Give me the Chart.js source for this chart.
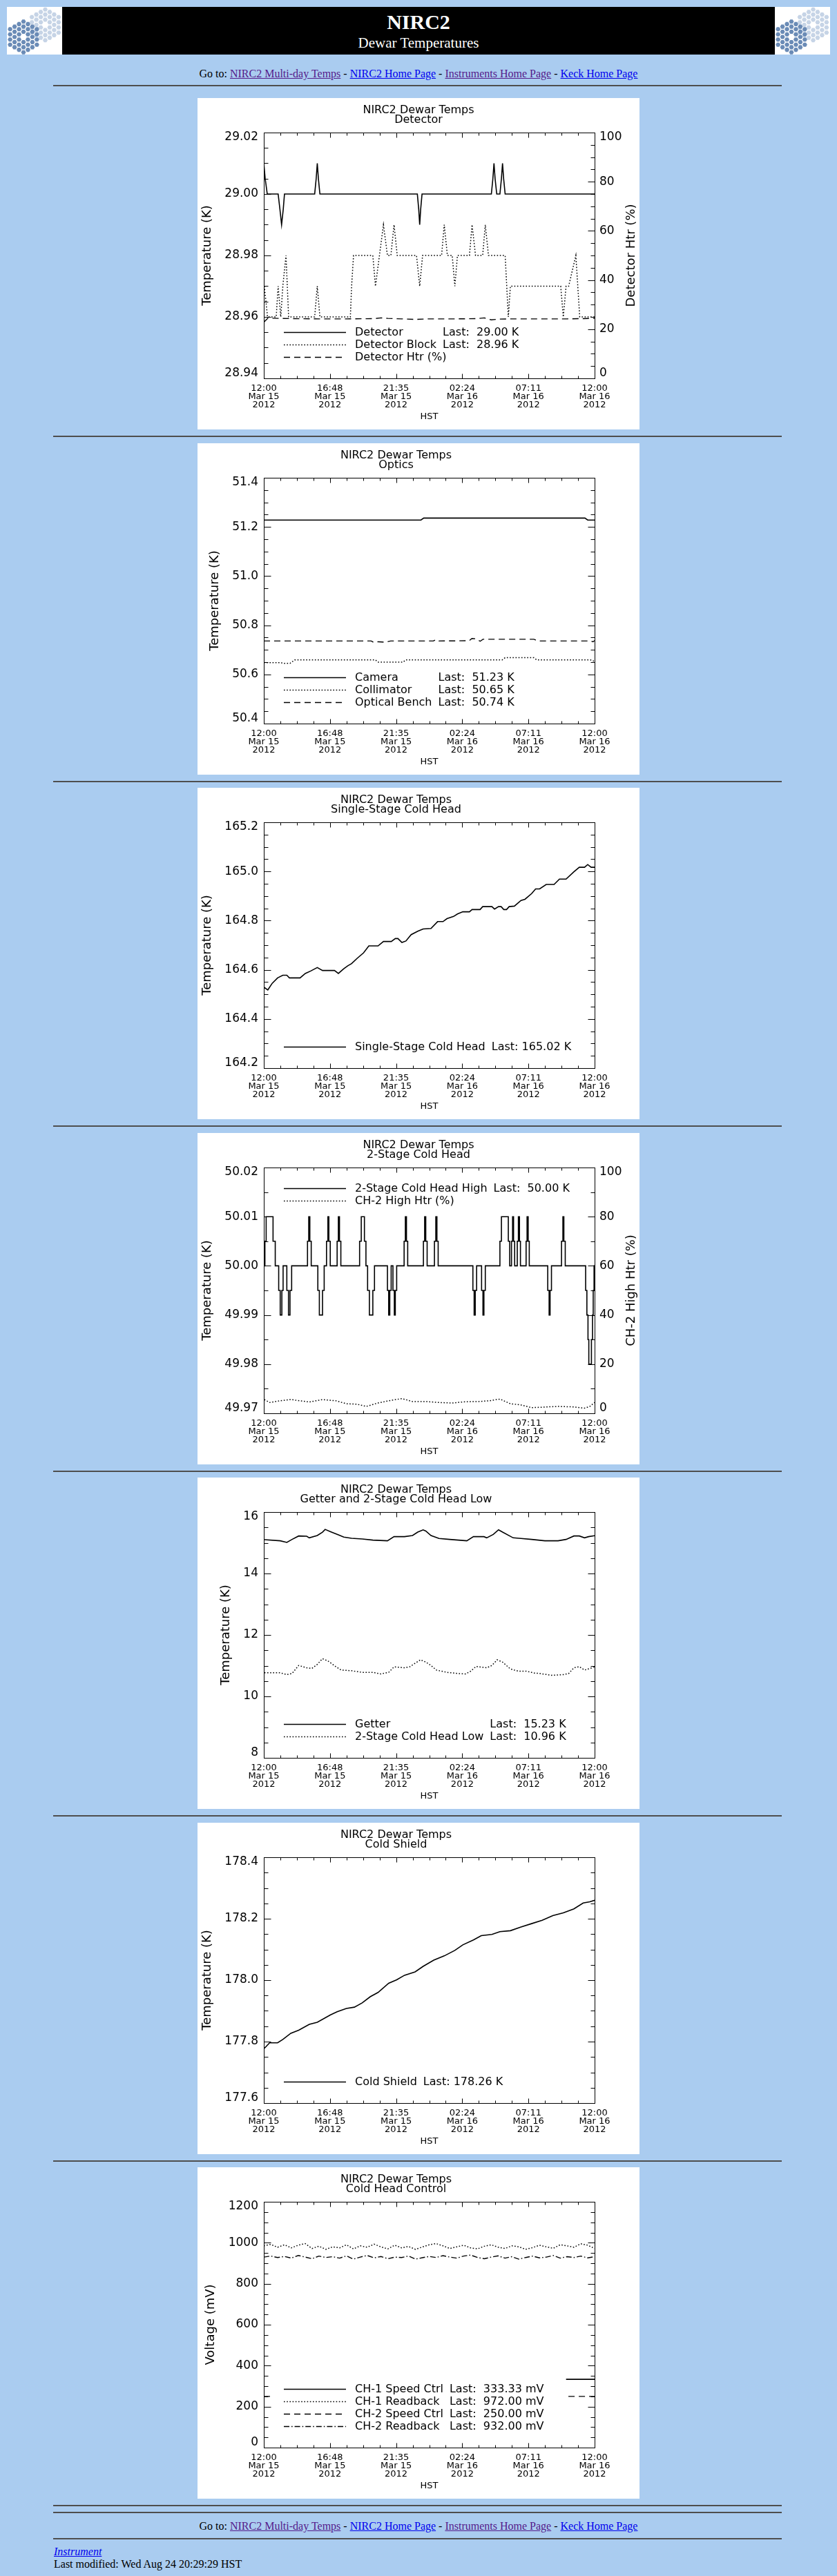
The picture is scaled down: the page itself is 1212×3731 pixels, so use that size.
<!DOCTYPE html>
<html><head><meta charset="utf-8">
<title>NIRC2 Dewar Temperatures</title>
<script src="https://cdn.jsdelivr.net/npm/chart.js@4.4.1/dist/chart.umd.min.js"></script>
<style>
html,body{margin:0;padding:0;}
body{background:#AACCF0;width:1212px;height:3731px;position:relative;overflow:hidden;font-family:"Liberation Serif","Times New Roman",serif;color:#000;}
.abs{position:absolute;}
.hr{position:absolute;left:77px;width:1055px;height:2px;background:#4e4e4e;}
.goto{position:absolute;left:0;width:1212px;text-align:center;font-size:16px;line-height:16px;white-space:pre;}
.v{color:#551A8B;text-decoration:underline;}
.b{color:#0000EE;text-decoration:underline;}
.panel{position:absolute;left:286px;width:640px;height:480px;background:#fff;}
.panel canvas{display:block;}
</style>
</head><body>
<script>
// ---------------- DATA ----------------
const xTickHours = [0, 4.8, 9.6, 14.4, 19.2, 24];
const xTickLabels = [["12:00","Mar 15","2012"],["16:48","Mar 15","2012"],["21:35","Mar 15","2012"],["02:24","Mar 16","2012"],["07:11","Mar 16","2012"],["12:00","Mar 16","2012"]];
const pctTicks = [0, 20, 40, 60, 80, 100];
const pctTickLabels = ["0","20","40","60","80","100"];

// Chart 1: Detector
const detTicks = [28.94, 28.96, 28.98, 29.00, 29.02];
const detTickLabels = ["28.94","28.96","28.98","29.00","29.02"];
const detectorHours = [0, 0.1, 0.25, 1.04, 1.17, 1.29, 1.41, 1.5, 3.69, 3.8, 3.88, 3.96, 4.07, 11.14, 11.24, 11.31, 11.38, 11.48, 16.51, 16.62, 16.70, 16.78, 16.90, 17.13, 17.24, 17.32, 17.40, 17.51, 24];
const detectorTemps = [29.01, 29.005, 29.00, 29.00, 28.995, 28.99, 28.995, 29.00, 29.00, 29.005, 29.01, 29.005, 29.00, 29.00, 28.995, 28.99, 28.995, 29.00, 29.00, 29.005, 29.01, 29.005, 29.00, 29.00, 29.005, 29.01, 29.005, 29.00, 29.00];
const blockHours = [0.04, 0.27, 0.90, 1.04, 1.23, 1.38, 1.61, 1.80, 3.69, 3.88, 4.07, 6.28, 6.37, 6.51, 7.91, 8.10, 8.39, 8.68, 8.97, 9.22, 9.45, 9.68, 11.08, 11.31, 11.52, 12.90, 13.09, 13.32, 13.67, 13.86, 14.05, 14.92, 15.11, 15.36, 15.88, 16.07, 16.30, 17.51, 17.74, 17.89, 21.54, 21.73, 21.93, 22.12, 22.64, 22.92, 24];
const blockTemps = [28.97, 28.96, 28.96, 28.97, 28.96, 28.97, 28.98, 28.96, 28.96, 28.97, 28.96, 28.96, 28.97, 28.98, 28.98, 28.97, 28.98, 28.99, 28.98, 28.98, 28.99, 28.98, 28.98, 28.97, 28.98, 28.98, 28.99, 28.98, 28.98, 28.97, 28.98, 28.98, 28.99, 28.98, 28.98, 28.99, 28.98, 28.98, 28.96, 28.97, 28.97, 28.96, 28.97, 28.97, 28.98, 28.96, 28.96];
const detHtrHours = [0, 0.3, 2, 4, 6, 8, 8.5, 9, 10, 11, 12, 14, 15.5, 16, 16.5, 17, 17.8, 20, 22, 24];
const detHtrPct = [22.8, 24.5, 24.3, 24.2, 24.2, 24.3, 24.6, 24.4, 24.2, 24.0, 24.2, 24.2, 24.3, 24.6, 23.8, 24.1, 24.2, 24.2, 24.2, 24.4];

// Chart 2: Optics
const opticsTicks = [50.4, 50.6, 50.8, 51.0, 51.2, 51.4];
const opticsTickLabels = ["50.4","50.6","50.8","51.0","51.2","51.4"];
const cameraHours = [0, 11.4, 11.6, 23.3, 23.5, 24];
const cameraTemps = [51.228, 51.228, 51.236, 51.236, 51.228, 51.228];
const collimHours = [0, 1.2, 1.5, 1.9, 2.25, 8.1, 8.3, 10.1, 10.3, 17.3, 17.5, 19.6, 19.8, 23.7, 24];
const collimTemps = [50.648, 50.648, 50.645, 50.645, 50.659, 50.659, 50.650, 50.650, 50.659, 50.659, 50.668, 50.668, 50.659, 50.659, 50.653];
const benchHours = [0, 7.8, 7.95, 8.3, 8.8, 9.2, 12.3, 12.5, 12.7, 14.9, 15.1, 15.4, 15.7, 15.9, 19.6, 19.9, 23.6, 23.9, 24];
const benchTemps = [50.736, 50.736, 50.731, 50.733, 50.731, 50.736, 50.736, 50.742, 50.736, 50.737, 50.746, 50.745, 50.735, 50.743, 50.743, 50.736, 50.736, 50.733, 50.738];

// Chart 3: Single-Stage Cold Head
const sscTicks = [164.2, 164.4, 164.6, 164.8, 165.0, 165.2];
const sscTickLabels = ["164.2","164.4","164.6","164.8","165.0","165.2"];
const sscHours = [0.04, 0.29, 0.61, 1.00, 1.38, 1.67, 1.86, 2.63, 3.01, 3.40, 3.88, 4.26, 5.13, 5.41, 5.80, 6.09, 6.37, 6.76, 7.24, 7.62, 8.29, 8.68, 9.25, 9.54, 9.73, 10.02, 10.31, 10.69, 11.17, 11.56, 12.13, 12.61, 13.00, 13.29, 13.77, 14.05, 14.44, 14.92, 15.11, 15.69, 15.88, 16.55, 16.74, 17.03, 17.22, 17.41, 17.61, 17.80, 18.18, 18.66, 18.95, 19.43, 19.72, 20.01, 20.49, 21.06, 21.45, 21.93, 22.50, 22.89, 23.27, 23.50, 23.75, 24.00];
const sscTemps = [164.528, 164.518, 164.545, 164.567, 164.578, 164.578, 164.567, 164.567, 164.585, 164.595, 164.609, 164.597, 164.597, 164.585, 164.604, 164.616, 164.625, 164.646, 164.669, 164.697, 164.697, 164.715, 164.715, 164.727, 164.727, 164.711, 164.717, 164.743, 164.757, 164.766, 164.768, 164.796, 164.796, 164.808, 164.817, 164.827, 164.836, 164.836, 164.845, 164.845, 164.857, 164.857, 164.847, 164.857, 164.857, 164.845, 164.845, 164.857, 164.859, 164.882, 164.887, 164.910, 164.929, 164.929, 164.947, 164.947, 164.969, 164.969, 164.999, 165.017, 165.017, 165.028, 165.017, 165.017];

// Chart 4: 2-Stage Cold Head
const tscTicks = [49.97, 49.98, 49.99, 50.00, 50.01, 50.02];
const tscTickLabels = ["49.97","49.98","49.99","50.00","50.01","50.02"];
const tscHours = [0.00, 0.08, 0.17, 0.67, 0.83, 1.08, 1.19, 1.31, 1.40, 1.67, 1.79, 1.90, 2.02, 3.17, 3.26, 3.34, 3.44, 3.92, 4.03, 4.26, 4.38, 4.55, 4.65, 4.72, 4.82, 5.32, 5.41, 5.49, 5.59, 6.95, 7.07, 7.30, 7.41, 7.53, 7.66, 7.91, 8.03, 8.97, 9.06, 9.14, 9.24, 9.37, 9.47, 9.54, 9.64, 10.18, 10.27, 10.35, 10.44, 11.58, 11.67, 11.75, 11.85, 12.38, 12.48, 12.56, 12.65, 15.17, 15.26, 15.34, 15.44, 15.80, 15.90, 15.97, 16.07, 17.13, 17.24, 17.74, 17.84, 17.97, 18.05, 18.12, 18.20, 18.39, 18.47, 18.55, 18.62, 19.03, 19.10, 19.18, 19.26, 20.60, 20.70, 20.77, 20.87, 21.60, 21.70, 21.77, 21.87, 23.35, 23.44, 23.52, 23.58, 23.77, 23.85, 23.90, 23.96, 24.00];
const tscTemps = [50.000, 50.005, 50.010, 50.005, 50.000, 49.995, 49.990, 49.995, 50.000, 49.995, 49.990, 49.995, 50.000, 50.005, 50.010, 50.005, 50.000, 49.995, 49.990, 49.995, 50.000, 50.005, 50.010, 50.005, 50.000, 50.005, 50.010, 50.005, 50.000, 50.005, 50.010, 50.005, 50.000, 49.995, 49.990, 49.995, 50.000, 49.995, 49.990, 49.995, 50.000, 49.995, 49.990, 49.995, 50.000, 50.005, 50.010, 50.005, 50.000, 50.005, 50.010, 50.005, 50.000, 50.005, 50.010, 50.005, 50.000, 49.995, 49.990, 49.995, 50.000, 49.995, 49.990, 49.995, 50.000, 50.005, 50.010, 50.005, 50.000, 50.005, 50.010, 50.005, 50.000, 50.005, 50.010, 50.005, 50.000, 50.005, 50.010, 50.005, 50.000, 49.995, 49.990, 49.995, 50.000, 50.005, 50.010, 50.005, 50.000, 49.995, 49.990, 49.985, 49.980, 49.985, 49.990, 49.995, 50.000, 50.000];
const ch2HtrHours = [0.04, 0.42, 1.19, 1.96, 3.30, 4.26, 5.22, 5.99, 6.76, 7.43, 8.29, 9.25, 10.02, 10.79, 11.75, 12.71, 13.67, 14.63, 15.59, 16.36, 17.13, 17.89, 18.66, 19.43, 20.20, 21.35, 22.50, 23.27, 23.65, 24.00];
const ch2HtrPct = [5.6, 4.4, 5.1, 5.6, 4.6, 5.6, 5.1, 3.9, 3.7, 2.8, 4.2, 5.3, 6.0, 4.8, 4.8, 4.4, 4.2, 4.7, 4.8, 5.1, 5.8, 3.9, 3.4, 2.3, 2.5, 2.8, 2.6, 2.1, 2.8, 4.4];

// Chart 5: Getter and 2-Stage Cold Head Low
const getTicks = [8, 10, 12, 14, 16];
const getTickLabels = ["8","10","12","14","16"];
const getterHours = [0.04, 1.19, 1.67, 2.05, 2.53, 3.11, 3.30, 3.88, 4.26, 4.45, 4.84, 5.41, 5.80, 6.37, 7.14, 7.91, 8.97, 9.45, 10.21, 10.79, 11.17, 11.56, 11.75, 12.13, 12.71, 13.48, 14.73, 15.21, 15.97, 16.17, 16.65, 17.03, 17.32, 18.09, 18.66, 19.43, 20.39, 21.35, 21.93, 22.50, 22.89, 23.27, 23.56, 24.00];
const getterTemps = [15.102, 15.065, 15.013, 15.109, 15.221, 15.213, 15.161, 15.236, 15.347, 15.436, 15.362, 15.258, 15.184, 15.147, 15.124, 15.087, 15.065, 15.199, 15.199, 15.236, 15.347, 15.421, 15.384, 15.236, 15.139, 15.109, 15.065, 15.199, 15.199, 15.161, 15.273, 15.421, 15.347, 15.161, 15.139, 15.109, 15.065, 15.065, 15.109, 15.221, 15.221, 15.161, 15.199, 15.23];
const lowHours = [0.04, 1.19, 1.67, 2.05, 2.53, 3.11, 3.49, 3.88, 4.26, 4.65, 5.22, 5.61, 6.37, 7.14, 7.91, 8.49, 9.06, 9.45, 10.21, 10.60, 10.98, 11.37, 11.75, 12.13, 12.52, 13.29, 14.05, 14.63, 15.01, 15.40, 16.17, 16.55, 16.93, 17.32, 17.89, 18.47, 19.05, 19.62, 20.01, 20.87, 21.73, 22.12, 22.50, 22.89, 23.27, 23.65, 24.00];
const lowTemps = [10.768, 10.768, 10.709, 10.746, 11.006, 10.931, 10.909, 11.043, 11.228, 11.154, 10.968, 10.857, 10.835, 10.783, 10.783, 10.731, 10.783, 10.962, 10.931, 10.968, 11.080, 11.191, 11.117, 11.006, 10.857, 10.783, 10.746, 10.731, 10.820, 10.976, 10.931, 11.006, 11.191, 11.117, 10.894, 10.820, 10.820, 10.761, 10.746, 10.687, 10.709, 10.746, 10.931, 10.968, 10.857, 10.909, 10.96];

// Chart 6: Cold Shield
const csTicks = [177.6, 177.8, 178.0, 178.2, 178.4];
const csTickLabels = ["177.6","177.8","178.0","178.2","178.4"];
const shieldHours = [0.04, 0.42, 1.00, 1.38, 1.96, 2.53, 3.30, 3.88, 4.84, 5.32, 5.99, 6.57, 7.14, 7.72, 8.29, 9.06, 9.64, 10.21, 10.98, 11.56, 12.33, 13.09, 13.86, 14.44, 15.21, 15.78, 16.55, 17.13, 17.89, 18.66, 19.43, 20.20, 20.97, 21.73, 22.50, 23.17, 23.65, 24.00];
const shieldTemps = [177.778, 177.796, 177.796, 177.807, 177.827, 177.837, 177.856, 177.863, 177.887, 177.897, 177.908, 177.912, 177.926, 177.946, 177.960, 177.990, 178.001, 178.016, 178.027, 178.045, 178.065, 178.079, 178.097, 178.115, 178.131, 178.145, 178.149, 178.158, 178.161, 178.173, 178.184, 178.195, 178.210, 178.219, 178.232, 178.251, 178.255, 178.26];

// Chart 7: Cold Head Control
const mvTicks = [0, 200, 400, 600, 800, 1000, 1200];
const mvTickLabels = ["0","200","400","600","800","1000","1200"];
const ch1SpeedHours = [21.93, 24];
const ch1SpeedMv = [333.33, 333.33];
const ch2SpeedHours = [0, 0.6, 0.61, 22.1, 24];
const ch2SpeedMv = [250, 250, null, 250, 250];
const readbackHours = [0,0.5,1,1.5,2,2.5,3,3.5,4,4.5,5,5.5,6,6.5,7,7.5,8,8.5,9,9.5,10,10.5,11,11.5,12,12.5,13,13.5,14,14.5,15,15.5,16,16.5,17,17.5,18,18.5,19,19.5,20,20.5,21,21.5,22,22.5,23,23.5,24];
const ch1ReadbackMv = [985, 992, 978, 990, 975, 988, 996, 972, 983, 968, 980, 975, 990, 970, 985, 978, 993, 980, 970, 988, 975, 982, 968, 979, 990, 996, 985, 972, 980, 988, 975, 970, 983, 990, 978, 972, 985, 980, 968, 976, 988, 980, 973, 990, 985, 978, 995, 988, 972];
const ch2ReadbackMv = [930, 935, 928, 933, 925, 938, 930, 922, 935, 928, 932, 925, 936, 920, 930, 938, 926, 933, 922, 930, 928, 935, 920, 927, 933, 928, 937, 930, 925, 935, 940, 928, 922, 930, 936, 925, 932, 920, 928, 935, 926, 930, 938, 925, 932, 928, 935, 926, 932];

// ---------------- STYLE ----------------
const FAM = '"DejaVu Sans", Verdana, sans-serif';
const FW = 'normal';
const LINESTYLE = {
  solid:   {borderDash: [],             borderWidth: 1.6},
  dotted:  {borderDash: [1.6, 2.6],     borderWidth: 1.5},
  dashed:  {borderDash: [9, 6],         borderWidth: 1.4},
  dashdot: {borderDash: [8, 3, 1.6, 3], borderWidth: 1.4}
};

const idlPlugin = {
  id: 'idl',
  beforeDraw(chart) {
    const c = chart.ctx; c.save(); c.fillStyle = '#fff'; c.fillRect(0, 0, chart.width, chart.height); c.restore();
  },
  afterDraw(chart, args, o) {
    const ctx = chart.ctx, a = chart.chartArea;
    const L = Math.round(a.left) + 0.5, R = Math.round(a.right) + 0.5, T = Math.round(a.top) + 0.5, B = Math.round(a.bottom) + 0.5;
    ctx.save();
    ctx.strokeStyle = '#000'; ctx.lineWidth = 1; ctx.setLineDash([]);
    ctx.strokeRect(L, T, R - L, B - T);
    ctx.beginPath();
    const ticksOf = (scale, majors, minor) => {
      const n = Math.round((scale.max - scale.min) / minor);
      const out = [];
      for (let i = 0; i <= n; i++) {
        const v = scale.min + i * minor;
        const major = majors.some(m => Math.abs(m - v) < minor * 1e-3);
        out.push({p: Math.round(scale.getPixelForValue(v)) + 0.5, major});
      }
      return out;
    };
    ticksOf(chart.scales.x, o.xMajors, o.xMinor).forEach(t => {
      const len = t.major ? 7 : 4;
      ctx.moveTo(t.p, B); ctx.lineTo(t.p, B - len);
      ctx.moveTo(t.p, T); ctx.lineTo(t.p, T + len);
    });
    const yt = ticksOf(chart.scales.y, o.yMajors, o.yMinor);
    yt.forEach(t => { const len = t.major ? 10 : 6; ctx.moveTo(L, t.p); ctx.lineTo(L + len, t.p); });
    const rt = chart.scales.y2 ? ticksOf(chart.scales.y2, o.y2Majors, o.y2Minor) : yt;
    rt.forEach(t => { const len = t.major ? 10 : 6; ctx.moveTo(R, t.p); ctx.lineTo(R - len, t.p); });
    ctx.stroke();

    // axis titles
    ctx.fillStyle = '#000';
    ctx.font = FW + ' 17px ' + FAM;
    const widest = labs => Math.max(...labs.map(s => ctx.measureText(s).width));
    const wl = widest(o.yLabels);
    ctx.font = FW + ' 18px ' + FAM;
    ctx.textAlign = 'center'; ctx.textBaseline = 'middle';
    ctx.save(); ctx.translate(a.left - 8 - wl - 25, (a.top + a.bottom) / 2); ctx.rotate(-Math.PI / 2);
    ctx.fillText(o.yTitle, 0, 0); ctx.restore();
    if (o.y2Title) {
      ctx.font = FW + ' 17px ' + FAM;
      const wr = widest(o.y2Labels);
      ctx.font = FW + ' 18px ' + FAM;
      ctx.save(); ctx.translate(a.right + 7 + wr + 14, (a.top + a.bottom) / 2); ctx.rotate(-Math.PI / 2);
      ctx.fillText(o.y2Title, 0, 0); ctx.restore();
    }

    // legend
    const rows = chart.data.datasets.filter(d => d.label);
    ctx.font = FW + ' 16px ' + FAM;
    ctx.textAlign = 'left';
    const named = rows.filter(d => d.lastText);
    const nameW = named.length ? Math.max(...named.map(d => ctx.measureText(d.label).width)) : 0;
    const y0 = o.legendAt === 'top' ? a.top + 30 : a.bottom - 31 - (rows.length - 1) * 18;
    rows.forEach((d, k) => {
      const y = Math.round(y0 + k * 18) + 0.5;
      ctx.strokeStyle = '#000'; ctx.lineWidth = d.borderWidth; ctx.setLineDash(d.borderDash || []);
      ctx.beginPath(); ctx.moveTo(a.left + 29, y); ctx.lineTo(a.left + 119, y); ctx.stroke();
      ctx.setLineDash([]);
      ctx.fillText(d.label, a.left + 132, y);
      if (d.lastText) ctx.fillText(d.lastText, a.left + 132 + nameW + 9, y);
    });
    ctx.restore();
  }
};

function series(hours, values, label, lastText, style, axis, stepped) {
  return Object.assign({
    label, lastText,
    data: hours.map((h, i) => ({x: h, y: values[i]})),
    yAxisID: axis || 'y', borderColor: '#000', backgroundColor: '#000',
    pointRadius: 0, tension: 0, fill: false, spanGaps: false, stepped: stepped || false
  }, LINESTYLE[style]);
}

function yScale(pos, min, max, ticks, labels, width) {
  return {
    type: 'linear', position: pos, min, max,
    afterBuildTicks: s => { s.ticks = ticks.map(v => ({value: v})); },
    afterFit: s => { s.width = width; },
    grid: {display: false, drawTicks: false}, border: {display: false},
    ticks: {
      padding: pos === 'left' ? 8 : 7, color: '#000', autoSkip: false,
      font: {family: FAM, size: 17, weight: FW, lineHeight: '14px'},
      callback: (v, i, t) => i === 0 ? [labels[i], ''] : (i === t.length - 1 ? ['', labels[i]] : labels[i])
    }
  };
}

function makeChart(canvas, spec) {
  const scales = {
    x: {
      type: 'linear', position: 'bottom', min: 0, max: 24,
      afterBuildTicks: s => { s.ticks = xTickHours.map(v => ({value: v})); },
      afterFit: s => { s.height = 74; },
      grid: {display: false, drawTicks: false}, border: {display: false},
      ticks: {autoSkip: false, maxRotation: 0, minRotation: 0, padding: 9, color: '#000',
        font: {family: FAM, size: 13, weight: FW, lineHeight: '12px'},
        callback: (v, i) => xTickLabels[i]},
      title: {display: true, text: 'HST', color: '#000', font: {family: FAM, size: 13, weight: FW, lineHeight: '15px'}, padding: {top: 0, bottom: 11}}
    },
    y: yScale('left', spec.y.min, spec.y.max, spec.y.ticks, spec.y.labels, 96)
  };
  if (spec.y2) scales.y2 = yScale('right', spec.y2.min, spec.y2.max, spec.y2.ticks, spec.y2.labels, 65);
  return new Chart(canvas, {
    type: 'line',
    data: {datasets: spec.datasets},
    options: {
      responsive: false, animation: false, devicePixelRatio: 1, events: [],
      layout: {padding: {left: 0, top: 0, bottom: 0, right: spec.y2 ? 0 : 65}},
      plugins: {
        legend: {display: false}, tooltip: {enabled: false},
        title: {display: true, text: spec.title, color: '#000', align: 'center',
          font: {family: FAM, size: 16, weight: FW, lineHeight: '14px'}, padding: {top: 11, bottom: 11}},
        idl: {
          xMajors: xTickHours, xMinor: 1.2,
          yMajors: spec.y.ticks, yMinor: spec.y.minor, yLabels: spec.y.labels, yTitle: spec.y.title,
          y2Majors: spec.y2 ? spec.y2.ticks : null, y2Minor: spec.y2 ? spec.y2.minor : null,
          y2Labels: spec.y2 ? spec.y2.labels : null, y2Title: spec.y2 ? spec.y2.title : null,
          legendAt: spec.legendAt || 'bottom'
        }
      },
      scales
    },
    plugins: [idlPlugin]
  });
}

const specs = [
  {title: ['NIRC2 Dewar Temps', 'Detector'],
   y: {min: 28.94, max: 29.02, ticks: detTicks, labels: detTickLabels, minor: 0.005, title: 'Temperature (K)'},
   y2: {min: 0, max: 100, ticks: pctTicks, labels: pctTickLabels, minor: 5, title: 'Detector Htr (%)'},
   datasets: [
     series(detectorHours, detectorTemps, 'Detector', 'Last:  29.00 K', 'solid'),
     series(blockHours, blockTemps, 'Detector Block', 'Last:  28.96 K', 'dotted'),
     series(detHtrHours, detHtrPct, 'Detector Htr (%)', null, 'dashed', 'y2')]},
  {title: ['NIRC2 Dewar Temps', 'Optics'],
   y: {min: 50.4, max: 51.4, ticks: opticsTicks, labels: opticsTickLabels, minor: 0.05, title: 'Temperature (K)'},
   datasets: [
     series(cameraHours, cameraTemps, 'Camera', 'Last:  51.23 K', 'solid'),
     series(collimHours, collimTemps, 'Collimator', 'Last:  50.65 K', 'dotted'),
     series(benchHours, benchTemps, 'Optical Bench', 'Last:  50.74 K', 'dashed')]},
  {title: ['NIRC2 Dewar Temps', 'Single-Stage Cold Head'],
   y: {min: 164.2, max: 165.2, ticks: sscTicks, labels: sscTickLabels, minor: 0.05, title: 'Temperature (K)'},
   datasets: [series(sscHours, sscTemps, 'Single-Stage Cold Head', 'Last: 165.02 K', 'solid')]},
  {title: ['NIRC2 Dewar Temps', '2-Stage Cold Head'],
   y: {min: 49.97, max: 50.02, ticks: tscTicks, labels: tscTickLabels, minor: 0.005, title: 'Temperature (K)'},
   y2: {min: 0, max: 100, ticks: pctTicks, labels: pctTickLabels, minor: 10, title: 'CH-2 High Htr (%)'},
   legendAt: 'top',
   datasets: [
     series(tscHours, tscTemps, '2-Stage Cold Head High', 'Last:  50.00 K', 'solid', 'y', 'before'),
     series(ch2HtrHours, ch2HtrPct, 'CH-2 High Htr (%)', null, 'dotted', 'y2')]},
  {title: ['NIRC2 Dewar Temps', 'Getter and 2-Stage Cold Head Low'],
   y: {min: 8, max: 16, ticks: getTicks, labels: getTickLabels, minor: 0.5, title: 'Temperature (K)'},
   datasets: [
     series(getterHours, getterTemps, 'Getter', 'Last:  15.23 K', 'solid'),
     series(lowHours, lowTemps, '2-Stage Cold Head Low', 'Last:  10.96 K', 'dotted')]},
  {title: ['NIRC2 Dewar Temps', 'Cold Shield'],
   y: {min: 177.6, max: 178.4, ticks: csTicks, labels: csTickLabels, minor: 0.05, title: 'Temperature (K)'},
   datasets: [series(shieldHours, shieldTemps, 'Cold Shield', 'Last: 178.26 K', 'solid')]},
  {title: ['NIRC2 Dewar Temps', 'Cold Head Control'],
   y: {min: 0, max: 1200, ticks: mvTicks, labels: mvTickLabels, minor: 50, title: 'Voltage (mV)'},
   datasets: [
     series(ch1SpeedHours, ch1SpeedMv, 'CH-1 Speed Ctrl', 'Last:  333.33 mV', 'solid'),
     series(readbackHours, ch1ReadbackMv, 'CH-1 Readback', 'Last:  972.00 mV', 'dotted'),
     series(ch2SpeedHours, ch2SpeedMv, 'CH-2 Speed Ctrl', 'Last:  250.00 mV', 'dashed'),
     series(readbackHours, ch2ReadbackMv, 'CH-2 Readback', 'Last:  932.00 mV', 'dashdot')]}
];

// ---------------- PAGE ----------------
function el(tag, cls, style, html) {
  const e = document.createElement(tag);
  if (cls) e.className = cls;
  if (style) e.style.cssText = style;
  if (html != null) e.innerHTML = html;
  document.body.appendChild(e);
  return e;
}
function drawLogo(cv) {
  const c = cv.getContext('2d');
  c.fillStyle = '#fff'; c.fillRect(0, 0, cv.width, cv.height);
  const s = 4.3, r3 = Math.sqrt(3);
  const hex = (x, y, rad) => {
    c.beginPath();
    for (let k = 0; k < 6; k++) { const ang = Math.PI / 3 * k; const px = x + rad * Math.cos(ang), py = y + rad * Math.sin(ang); k ? c.lineTo(px, py) : c.moveTo(px, py); }
    c.closePath(); c.fill();
  };
  const cluster = (cx, cy, col) => {
    c.fillStyle = col;
    for (let q = -3; q <= 3; q++) for (let r = -3; r <= 3; r++) {
      const d = Math.max(Math.abs(q), Math.abs(r), Math.abs(q + r));
      if (d === 0 || d > 3) continue;
      hex(cx + s * 1.5 * q, cy + s * r3 * (r + q / 2), s - 0.8);
    }
  };
  cluster(55.5, 26, '#C6D4E6');
  cluster(24, 43.5, '#6A8BB6');
}
const gotoHTML = 'Go to: <span class="v">NIRC2 Multi-day Temps</span> - <span class="b">NIRC2 Home Page</span> - <span class="v">Instruments Home Page</span> - <span class="b">Keck Home Page</span>';

const logoL = el('canvas', 'abs', 'left:10px;top:10px;width:80px;height:69px;');
el('div', 'abs', 'left:90px;top:10px;width:1032px;height:69px;background:#000;');
const logoR = el('canvas', 'abs', 'left:1122px;top:10px;width:80px;height:69px;');
[logoL, logoR].forEach(c => { c.width = 80; c.height = 69; drawLogo(c); });
el('div', 'abs', 'left:90px;top:17px;width:1032px;text-align:center;color:#fff;font-weight:bold;font-size:30px;line-height:30px;', 'NIRC2');
el('div', 'abs', 'left:90px;top:52px;width:1032px;text-align:center;color:#fff;font-size:21px;line-height:21px;', 'Dewar Temperatures');
el('div', 'goto', 'top:99px;', gotoHTML);
el('div', 'hr', 'top:123px;');

const PANEL_TOP0 = 142, PANEL_STEP = 499.5;
let lastTop = 0;
specs.forEach((spec, i) => {
  const top = PANEL_TOP0 + Math.round(i * PANEL_STEP);
  lastTop = top;
  const p = el('div', 'panel', 'top:' + top + 'px;');
  const cv = document.createElement('canvas');
  cv.width = 640; cv.height = 480; cv.style.width = '640px'; cv.style.height = '480px';
  p.appendChild(cv);
  makeChart(cv, spec);
  el('div', 'hr', 'top:' + (top + 489) + 'px;');
});
const fb = lastTop + 480;
el('div', 'hr', 'top:' + (fb + 19) + 'px;');
el('div', 'goto', 'top:' + (fb + 32) + 'px;', gotoHTML);
el('div', 'hr', 'top:' + (fb + 57) + 'px;');
el('div', 'abs', 'left:78px;top:' + (fb + 69) + 'px;font-size:16px;line-height:16px;font-style:italic;', '<span class="b">Instrument</span>');
el('div', 'abs', 'left:78px;top:' + (fb + 87) + 'px;font-size:16px;line-height:16px;white-space:pre;', 'Last modified: Wed Aug 24 20:29:29 HST');
</script>
</body></html>
